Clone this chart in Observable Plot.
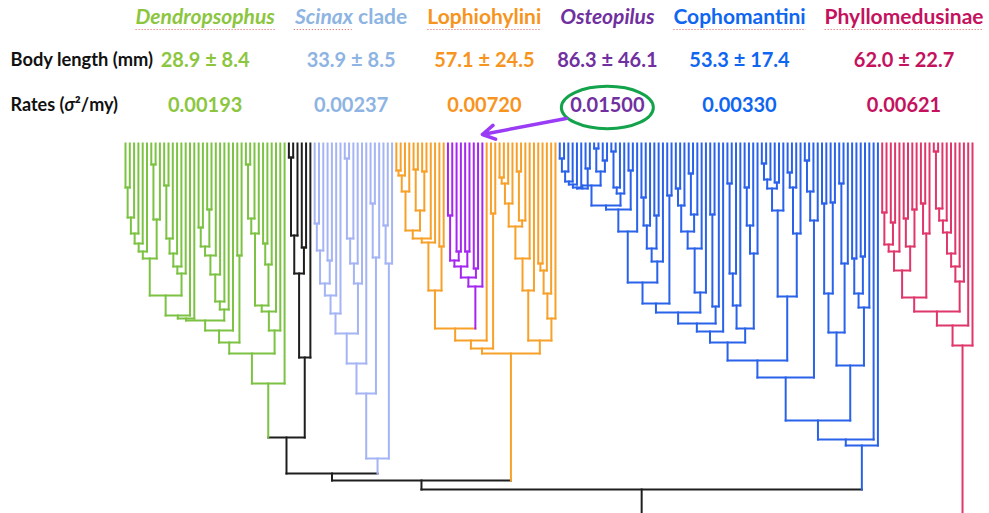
<!DOCTYPE html>
<html><head><meta charset="utf-8">
<script src="https://cdn.jsdelivr.net/npm/d3@7"></script>
<script src="https://cdn.jsdelivr.net/npm/@observablehq/plot@0.6"></script>
<style>
html,body{margin:0;padding:0;background:#fff;overflow:hidden;}
#chart{width:989px;height:513px;}
</style></head><body><div id="chart"></div>
<script>
// ---------------- DATA ----------------
const clades = ["Dendropsophus", "Scinax clade", "Lophiohylini", "Osteopilus", "Cophomantini", "Phyllomedusinae"];
const bodyMean = [28.9, 33.9, 57.1, 86.3, 53.3, 62.0];
const bodySD = [8.4, 8.5, 24.5, 46.1, 17.4, 22.7];
const rates = [0.00193, 0.00237, 0.00720, 0.01500, 0.00330, 0.00621];
const rowLabels = ["Body length (mm)", "Rates (σ²/my)"];

// Trees: Newick-like, internal node label = node age (depth below the tips), "$x" = sub-part, clade name = nested clade
const backboneTree = "(((((Dendropsophus,Other)294,Scinax clade)330,Lophiohylini)337,Cophomantini)346,Phyllomedusinae)420";
const cladeTrees = {
  "Dendropsophus": "(((((((($D_A,$D_B)152,)172,)175,$D_M)177,)187,(,)112)199,$D_R)210,)240",
  "Other": "((((,)14,)92,(,)104)130,)214",
  "Scinax clade": "(((($S_L,$S_M)190,)220,$S_T)250,$S_D)315",
  "Lophiohylini": "(((($L_A,Osteopilus)185,)197,(,)70)205,$L_R)210",
  "Osteopilus": "(((((,)72,(,)108)117,(,)108)123,(,)125)134,)143",
  "Cophomantini": "((((((((($C12,$C3)169,$C4)180,)188,$C5)199,$C6)217,$C7)234,$C8)277,)296,)302",
  "Phyllomedusinae": "((($P_L,$P_C)168,)182,)202"
};
const parts = {
  D_A: "((((((,)44,)74,)90,)100,)108,((,)21,)76)115",
  D_B: "(((((,)42,)95,)110,)123,)130",
  D_M: "((((((,)84,(,)66)103,)112,)131,)158,)166",
  D_R: "((((((,)21,)75,)90,((,)100,)121)162,)168,)187",
  S_L: "(((((,)80,)107,(,)117)140,)152,)170",
  S_M: "((((,)15,)95,)120,)140",
  S_T: "((,)60,)114",
  S_D: "((,)82,)120",
  L_A: "(((((((,)27,)32,)48,((,)26,(,)28)67)87,)95,)99,(,)103)147",
  L_R: "(((((((,)34,)40,)60,((,)28,)77)83,)115,)147,((((,)120,)127,)150,)175)197",
  C1L: "((((((,)15,)28,)38,)41,)44,(,)25)45",
  C1M: "((,)5,(,)17)28",
  C1R: "(((,)8,)44,)50",
  C1: "(((($C1L,$C1M)42,$C1R)62,(,)27)66,)88",
  C2: "((((,)54,)82,(,)72)105,)118",
  C12: "(($C1,$C2)139,(,)52)160",
  C3: "(((((,)45,)62,((,)30,)71)88,)105,)149",
  C4: "((,)71,)163",
  C5: "((((,)40,)130,)162,(((,)44,)82,)110)185",
  C6: "(((((,)20,)36,(,)39)45,)67,(((,)29,)44,)90)153",
  C7: "(((,)17,)48,)77",
  C8: "((((,)60,(,)59)150,((,)40,)120)189,(((,)115,(,)113)150,)164)222",
  P_L: "(((((,)69,(,)79)101,)108,((,)75,(,)66)103)127,((,)60,)90)154",
  P_C: "(((((((,)8,)65,)77,)89,)110,)123,)138"
};

// ---------------- STYLE ----------------
const lineColor = {
  backbone: "#1e1e1e", "Other": "#1e1e1e", "Dendropsophus": "#7cc243", "Scinax clade": "#a4b4f4",
  "Lophiohylini": "#f7a12a", "Osteopilus": "#a526f0", "Cophomantini": "#2a62ea", "Phyllomedusinae": "#e0376b"
};
const textColor = {
  "Dendropsophus": "#8cc63f", "Scinax clade": "#8db4e2", "Lophiohylini": "#f7941d",
  "Osteopilus": "#7030a0", "Cophomantini": "#0f66f0", "Phyllomedusinae": "#c4125e"
};
const italicNames = new Set(["Dendropsophus", "Osteopilus"]);
const spellMarked = {"Dendropsophus": "Dendropsophus", "Scinax clade": "Scinax", "Lophiohylini": "Lophiohylini", "Cophomantini": "Cophomantini", "Phyllomedusinae": "Phyllomedusinae"};
const W = 989, H = 513, mT = 143, mL = 125, mR = 17;
const ROW = {name: -126, body: -83, rate: -38};
const NAME_SIZE = 21;

// ---------------- TREE LAYOUT ----------------
function parse(str, group) {
  let i = 0;
  function node() {
    const kids = [];
    if (str[i] === "(") {
      i++;
      kids.push(node());
      while (str[i] === ",") { i++; kids.push(node()); }
      i++;
    }
    let label = "";
    while (i < str.length && !"(),".includes(str[i])) label += str[i++];
    label = label.trim();
    if (kids.length) return {group, age: +label, children: kids};
    if (label.startsWith("$")) return parse(parts[label.slice(1)], group);
    if (label in cladeTrees) return parse(cladeTrees[label], label);
    return {group, age: 0, children: []};
  }
  return node();
}
const root = parse(backboneTree, "backbone");
let N = 0;
const leaves = [];
(function place(nd) {
  if (!nd.children.length) { nd.x = N++; leaves.push(nd); return; }
  nd.children.forEach(place);
  nd.x = (nd.children[0].x + nd.children[nd.children.length - 1].x) / 2;
})(root);
const segs = [];
(function walk(nd) {
  if (!nd.children.length) return;
  const a = nd.children[0], b = nd.children[nd.children.length - 1];
  segs.push({x1: a.x, x2: b.x, y1: nd.age, y2: nd.age, group: nd.group});
  for (const c of nd.children) {
    segs.push({x1: c.x, x2: c.x, y1: nd.age, y2: c.age, group: c.group});
    walk(c);
  }
})(root);
const isBlack = d => d.group === "backbone" || d.group === "Other";
const ordered = segs.filter(isBlack).concat(segs.filter(d => !isBlack(d)));

// header columns: labels justified across the tip span
const xs = d3.scaleLinear([0, N - 1], [mL, W - mR]);
const ctx = document.createElement("canvas").getContext("2d");
const measure = (txt, italic) => { ctx.font = `${italic ? "italic " : ""}bold ${NAME_SIZE}px Lato`; return ctx.measureText(txt).width; };
const widths = clades.map(c => measure(c, italicNames.has(c)));
const left = mL + 10, right = W - 6;
const gap = (right - left - d3.sum(widths)) / (clades.length - 1);
let cursor = left;
const header = clades.map((c, k) => {
  const l = cursor, cx = cursor + widths[k] / 2; cursor += widths[k] + gap;
  const mark = spellMarked[c];
  const uw = mark ? measure(mark, c !== "Lophiohylini" && c !== "Cophomantini" && c !== "Phyllomedusinae") : 0;
  return {name: c, col: xs.invert(cx), u1: xs.invert(l), u2: xs.invert(l + uw), marked: !!mark,
    body: `${bodyMean[k].toFixed(1)} ± ${bodySD[k].toFixed(1)}`, rate: rates[k].toFixed(5)};
});
const osteo = header.find(d => d.name === "Osteopilus");
const osteoTips = leaves.filter(d => d.group === "Osteopilus").map(d => d.x);
const arrowData = [{x1: osteo.col, x2: d3.max(osteoTips)}];

const ellipse = {draw(c, size) {
  const rx = Math.sqrt(size / Math.PI), ry = rx * 0.46, k = 0.5523;
  c.moveTo(rx, 0);
  c.bezierCurveTo(rx, ry * k, rx * k, ry, 0, ry);
  c.bezierCurveTo(-rx * k, ry, -rx, ry * k, -rx, 0);
  c.bezierCurveTo(-rx, -ry * k, -rx * k, -ry, 0, -ry);
  c.bezierCurveTo(rx * k, -ry, rx, -ry * k, rx, 0);
  c.closePath();
}};

const font = {fontFamily: "Lato, 'Open Sans', sans-serif", fontWeight: "bold"};
const plot = Plot.plot({
  width: W, height: H, marginTop: mT, marginBottom: 0, marginLeft: mL, marginRight: mR,
  x: {domain: [0, N - 1], axis: null},
  y: {domain: [0, H - mT], reverse: true, axis: null},
  color: {type: "identity"},
  marks: [
    Plot.link(ordered, {x1: "x1", y1: "y1", x2: "x2", y2: "y2", stroke: d => lineColor[d.group], strokeWidth: 2, strokeLinecap: "square"}),
    Plot.link(header.filter(d => d.marked), {x1: "u1", x2: "u2", y1: () => ROW.name + 12, y2: () => ROW.name + 12, stroke: "#e04848", strokeWidth: 1.2, strokeDasharray: "1.2,1.8", strokeOpacity: 0.75}),
    Plot.text(header, {x: "col", y: () => ROW.name, text: "name", fill: d => textColor[d.name], fontSize: NAME_SIZE, ...font}),
    Plot.text(header, {x: "col", y: () => ROW.body, text: "body", fill: d => textColor[d.name], fontSize: 20, ...font}),
    Plot.text(header, {x: "col", y: () => ROW.rate, text: "rate", fill: d => textColor[d.name], fontSize: 20, ...font}),
    Plot.text(rowLabels.slice(0, 1), {y: () => ROW.body, text: d => d, frameAnchor: "left", dx: 10 - mL, textAnchor: "start", fill: "#111", fontSize: 18.3, ...font}),
    Plot.text(rowLabels.slice(1), {y: () => ROW.rate, text: d => d, frameAnchor: "left", dx: 10 - mL, textAnchor: "start", fill: "#111", fontSize: 18, ...font}),
    Plot.dot([osteo], {x: "col", y: () => ROW.rate + 2, r: 46, symbol: ellipse, stroke: "#13a34b", strokeWidth: 3, fill: "none"}),
    Plot.arrow(arrowData, {x1: "x1", y1: () => ROW.rate + 5, x2: "x2", y2: () => -9, stroke: "#9a3cf6", strokeWidth: 3.5, headLength: 6, headAngle: 60, insetStart: 42})
  ]
});

// rich text touches
const NS = "http://www.w3.org/2000/svg";
function tspan(t, txt, style) { const s = document.createElementNS(NS, "tspan"); s.textContent = txt; if (style) s.setAttribute("style", style); t.appendChild(s); return s; }
plot.querySelectorAll("text").forEach(t => {
  const s = t.textContent;
  if (italicNames.has(s)) t.style.fontStyle = "italic";
  else if (s === "Scinax clade") { t.textContent = ""; tspan(t, "Scinax", "font-style:italic"); tspan(t, " clade"); }
  else if (s.startsWith("Rates")) { t.textContent = ""; tspan(t, "Rates ("); tspan(t, "σ", "font-style:italic"); tspan(t, "²/my)"); }
});
document.getElementById("chart").append(plot);
</script>
</body></html>
